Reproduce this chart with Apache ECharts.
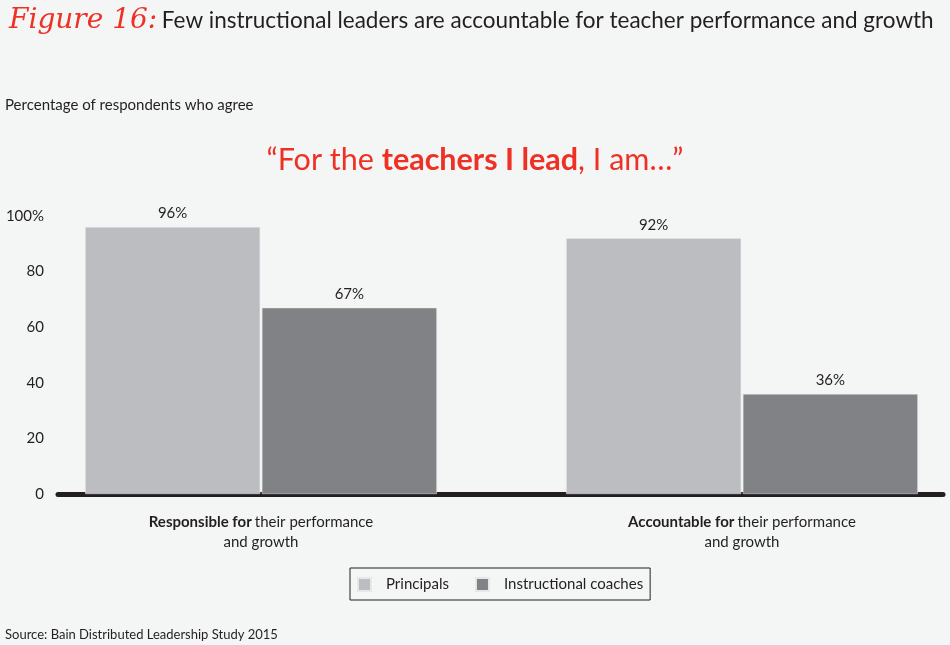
<!DOCTYPE html>
<html>
<head>
<meta charset="utf-8">
<script src="https://cdn.jsdelivr.net/npm/echarts@6/dist/echarts.min.js"></script>
<style>
  html, body { margin: 0; padding: 0; background: #f4f6f6; }
  #main { width: 950px; height: 645px; }
</style>
</head>
<body>
<div id="main"></div>
<script>
var categories = ['Responsible for', 'Accountable for'];
var categoryRest = ['their performance', 'their performance'];
var principals = [96, 92];
var coaches = [67, 36];
var yTicks = [0, 20, 40, 60, 80, 100];

var chart = echarts.init(document.getElementById('main'));
var font = 'Lato, "Noto Sans", sans-serif';

chart.setOption({
    backgroundColor: '#f4f6f6',
    textStyle: { fontFamily: font, color: '#231f20' },
    title: [ {
        text: '{fig|Figure 16:} {main|Few instructional leaders are accountable for teacher performance and growth}',
        left: 4,
        top: 2,
        textStyle: {
            fontWeight: 'normal',
            rich: {
                fig: { fontFamily: '"DejaVu Serif", serif', fontStyle: 'italic', fontWeight: 'normal', fontSize: 28, color: '#ee3124' },
                main: { fontFamily: font, fontWeight: 'normal', fontSize: 22.5, color: '#231f20' }
            }
        }
    }, {
        text: 'Percentage of respondents who agree',
        left: 0,
        top: 93,
        textStyle: { fontSize: 15, fontWeight: 'normal', color: '#231f20' }
    }, {
        text: '{a|\u201cFor the }{b|teachers I lead}{a|, I am\u2026\u201d}',
        left: 'center',
        top: 140,
        textStyle: {
            fontWeight: 'normal',
            rich: {
                a: { fontFamily: font, fontSize: 30.5, fontWeight: 'normal', color: '#ee3124' },
                b: { fontFamily: font, fontSize: 30.5, fontWeight: 'bold', color: '#ee3124' }
            }
        }
    }, {
        text: 'Source: Bain Distributed Leadership Study 2015',
        left: 0,
        top: 623,
        textStyle: { fontSize: 13, fontWeight: 'normal', color: '#231f20' }
    } ],
    legend: {
        left: 350,
        top: 568,
        width: 300,
        height: 32,
        padding: [9, 7, 8, 7],
        borderColor: '#231f20',
        borderWidth: 1,
        icon: 'rect',
        itemWidth: 13,
        itemHeight: 13,
        itemGap: 26,
        textStyle: { fontSize: 15, color: '#231f20', padding: [0, 0, 0, 10] },
        data: ['Principals', 'Instructional coaches']
    },
    grid: [
        // bar grid: category points sit on its left and right edges
        { left: 261, right: 208, top: 216, bottom: 151 },
        { left: 58, right: 7, top: 216, bottom: 151 }
    ],
    xAxis: [ {
        type: 'category',
        gridIndex: 0,
        data: categories,
        boundaryGap: false,
        axisLine: { show: false },
        axisTick: { show: false },
        axisLabel: {
            margin: 18,
            formatter: function (v, i) {
                return '{b|' + v + '} {n|' + categoryRest[i] + '}\n{n|and growth}';
            },
            rich: {
                b: { fontFamily: font, fontSize: 15, fontWeight: 'bold', color: '#231f20', lineHeight: 20 },
                n: { fontFamily: font, fontSize: 15, color: '#231f20', lineHeight: 20 }
            }
        }
    }, {
        type: 'category',
        gridIndex: 1,
        data: categories,
        axisLine: { show: true, lineStyle: { color: '#231f20', width: 5 } },
        axisTick: { show: false },
        axisLabel: { show: false }
    } ],
    yAxis: [ {
        type: 'value',
        gridIndex: 0,
        min: 0,
        max: 100,
        interval: 20,
        show: false
    }, {
        type: 'value',
        gridIndex: 1,
        min: yTicks[0],
        max: yTicks[yTicks.length - 1],
        interval: yTicks[1] - yTicks[0],
        axisLine: { show: false },
        axisTick: { show: false },
        splitLine: { show: false },
        axisLabel: {
            margin: 14,
            fontSize: 15,
            color: '#231f20',
            formatter: function (v) { return v === 100 ? '100%' : v; }
        }
    } ],
    series: [ {
        name: 'Principals',
        type: 'bar',
        xAxisIndex: 0,
        yAxisIndex: 0,
        data: principals,
        clip: false,
        barWidth: 175,
        barGap: '1%',
        itemStyle: { color: '#bcbdc0', borderColor: '#e6e7e8', borderWidth: 0.5 },
        label: { show: true, position: 'top', distance: 6, fontSize: 15, color: '#231f20', formatter: '{c}%' }
    }, {
        name: 'Instructional coaches',
        type: 'bar',
        xAxisIndex: 0,
        yAxisIndex: 0,
        data: coaches,
        clip: false,
        barWidth: 175,
        itemStyle: { color: '#808285', borderColor: '#e6e7e8', borderWidth: 0.5 },
        label: { show: true, position: 'top', distance: 6, fontSize: 15, color: '#231f20', formatter: '{c}%' }
    } ]
});
</script>
</body>
</html>
